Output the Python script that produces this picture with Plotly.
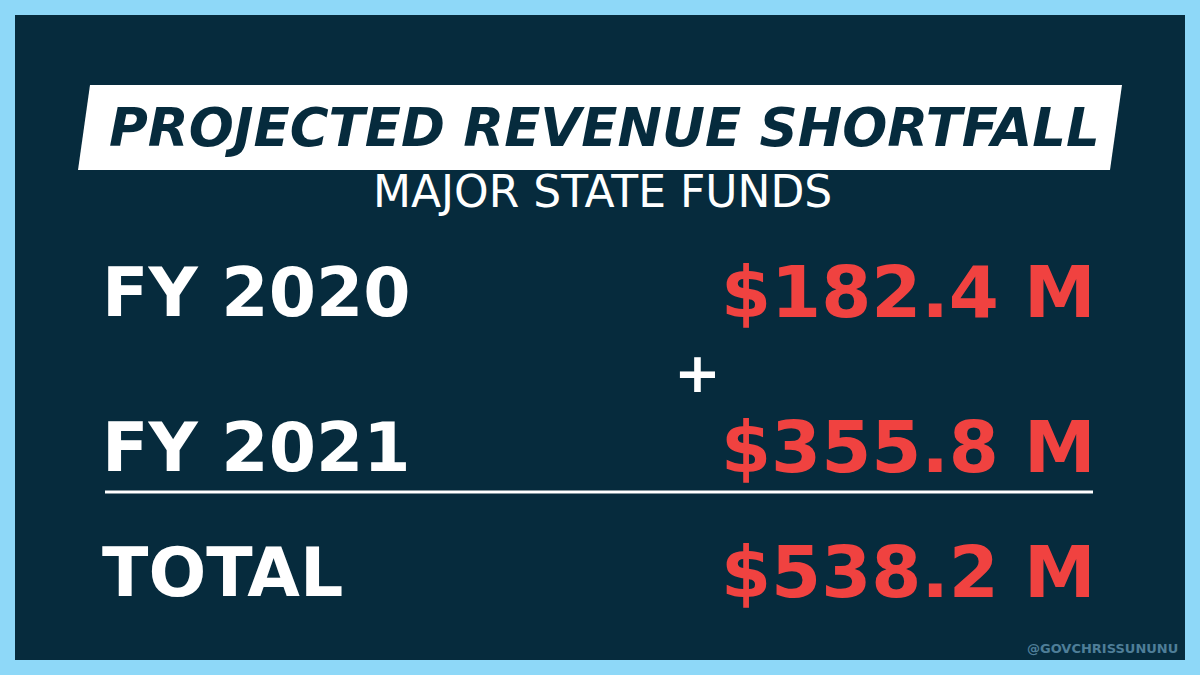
import plotly.graph_objects as go

labels = ["FY 2020", "FY 2021", "TOTAL"]
amounts = ["$182.4 M", "$355.8 M", "$538.2 M"]
title = "PROJECTED REVENUE SHORTFALL"
subtitle = "MAJOR STATE FUNDS"
handle = "@GOVCHRISSUNUNU"

W, H = 1200, 675
NAVY = "#062B3D"; RED = "#F04240"; BORDER = "#8ED8F8"
FONT = "DejaVu Sans"
def X(p): return p / W
def Y(p): return 1 - p / H

fig = go.Figure()
shapes = [
    dict(type="rect", xref="paper", yref="paper", x0=0, x1=1, y0=0, y1=1, fillcolor=BORDER, line_width=0, layer="below"),
    dict(type="rect", xref="paper", yref="paper", x0=X(15), x1=X(1185), y0=Y(660), y1=Y(15), fillcolor=NAVY, line_width=0, layer="below"),
    dict(type="path", xref="paper", yref="paper",
         path=f"M {X(78)},{Y(170)} L {X(1110)},{Y(170)} L {X(1122)},{Y(85)} L {X(90)},{Y(85)} Z",
         fillcolor="white", line_width=0),
    dict(type="line", xref="paper", yref="paper", x0=X(105), x1=X(1093), y0=Y(492), y1=Y(492), line=dict(color="white", width=3)),
]
ann = [
    dict(x=X(604), y=Y(128), text=f"<i>{title}</i>", font=dict(family=FONT, size=53, color=NAVY, weight=700)),
    dict(x=X(602), y=Y(191), text=subtitle, font=dict(family=FONT, size=44, color="white", weight=400)),
    dict(x=X(697), y=Y(372), text="+", font=dict(family=FONT, size=56, color="white", weight=700)),
    dict(x=X(1180), y=Y(648), text=handle, xanchor="right", font=dict(family=FONT, size=13, color="#4E7E98", weight=700)),
]
rows_y = [292, 447, 572]
for lab, amt, py in zip(labels, amounts, rows_y):
    ann.append(dict(x=X(100), y=Y(py), text=lab, xanchor="left", font=dict(family=FONT, size=68, color="white", weight=700)))
    ann.append(dict(x=X(1098), y=Y(py), text=amt, xanchor="right", font=dict(family=FONT, size=72, color=RED, weight=700)))
for a in ann:
    a.update(xref="paper", yref="paper", showarrow=False, yanchor="middle")
    a.setdefault("xanchor", "center")

fig.update_layout(width=W, height=H, margin=dict(l=0, r=0, t=0, b=0),
                  paper_bgcolor=NAVY, plot_bgcolor=NAVY, shapes=shapes, annotations=ann,
                  xaxis=dict(visible=False), yaxis=dict(visible=False))
fig.write_html("out.html", config={"displayModeBar": False},
               post_script="document.body.style.margin='0';document.body.style.overflow='hidden';")
